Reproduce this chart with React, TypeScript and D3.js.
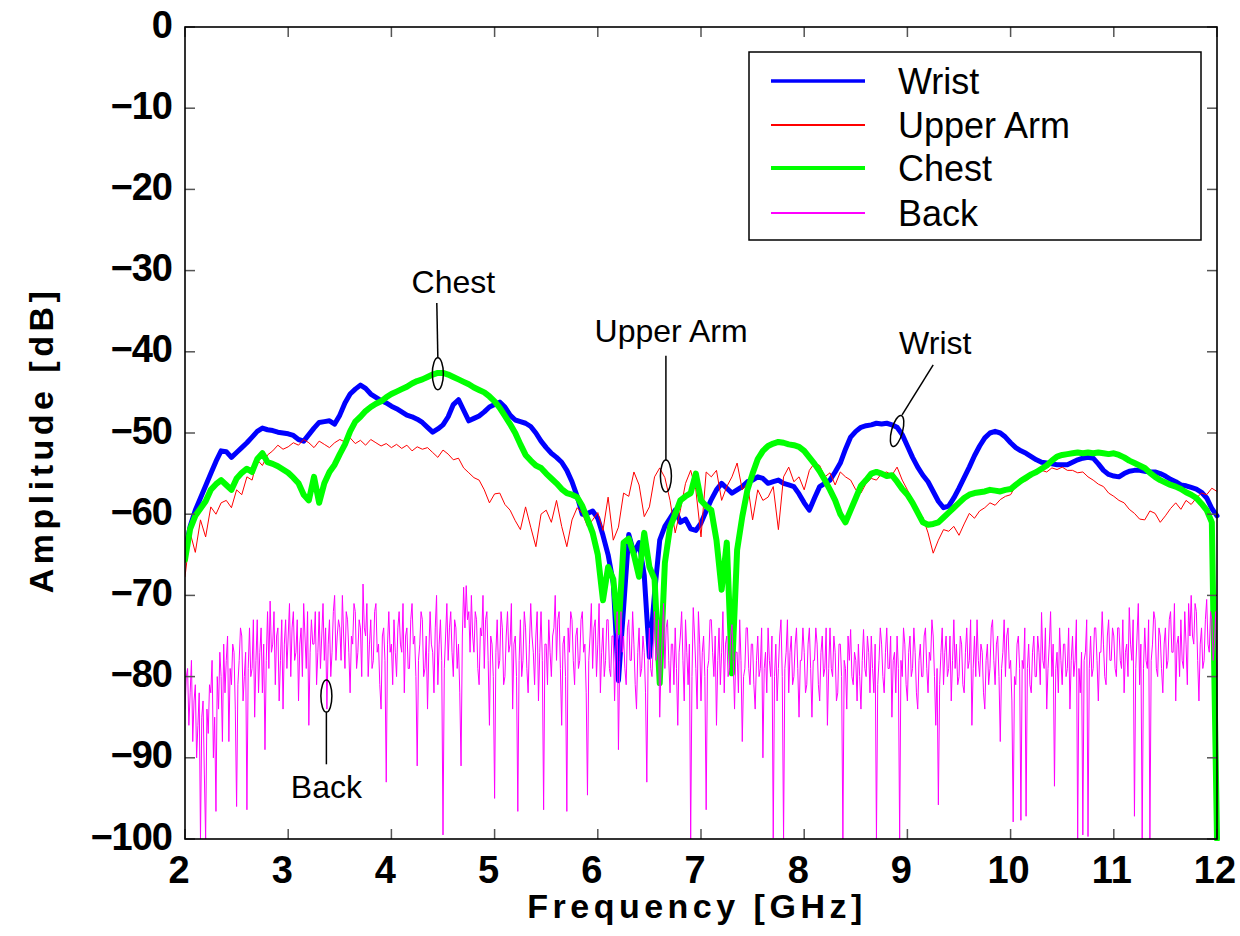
import React from "react";
import * as d3 from "d3";

// ---------- data ----------
const FREQ_TICKS = [2, 3, 4, 5, 6, 7, 8, 9, 10, 11, 12];
const AMP_TICKS = [0, -10, -20, -30, -40, -50, -60, -70, -80, -90, -100];
const SERIES_NAMES = ["Wrist", "Upper Arm", "Chest", "Back"];
const SERIES_COLORS = ["#0000ff", "#ff0000", "#00ff00", "#ff00ff"];

// 2.00 .. 12.00 GHz, 0.05 GHz step
const WRIST = [
  -64.5, -61.5, -59.5, -58, -56.5, -55, -53.5, -52.2, -52.3, -53,
  -52.4, -51.8, -51.2, -50.5, -49.8, -49.4, -49.6, -49.7, -49.9, -50,
  -50.1, -50.3, -50.8, -51, -50.2, -49.4, -48.7, -48.6, -48.5, -48.9,
  -47.8, -46.3, -45.2, -44.6, -44.1, -44.5, -45.2, -45.6, -46, -46.3,
  -46.7, -47, -47.4, -47.8, -48, -48.3, -48.7, -49.3, -49.9, -49.5,
  -49, -48, -46.5, -45.9, -47.2, -48.5, -48.2, -47.9, -47.4, -46.8,
  -46.5, -46.2, -46.8, -47.8, -48.4, -48.6, -48.8, -49.2, -50, -51,
  -51.8, -52.5, -53, -53.6, -54.6, -56, -57.8, -60, -59.9, -59.6,
  -60.5, -62.6, -65, -68.5, -80.5, -71.5, -62.5, -64.8, -63.5, -67.5,
  -77.6, -69.7, -63.2, -61.5, -60.5, -59.5, -61, -60.6, -61.8, -62,
  -61.1, -59.6, -58.2, -57, -56.2, -56.8, -57.4, -57, -56.6, -56,
  -55.8, -55.4, -55.6, -56.2, -56, -55.8, -56.2, -56.4, -56.6, -57.5,
  -58.6, -59.5, -58, -56.6, -56.2, -55.8, -54.8, -53.7, -52, -50.5,
  -49.8, -49.3, -49.1, -49, -48.8, -48.9, -48.8, -49, -49.3, -50.2,
  -51.6, -53, -54.2, -55.2, -56, -57.2, -58.4, -59.2, -59, -58,
  -56.8, -55.5, -54.2, -52.8, -51.6, -50.6, -50, -49.8, -50, -50.5,
  -51.2, -51.8, -52.2, -52.5, -52.9, -53.3, -53.6, -53.7, -53.8, -53.9,
  -53.9, -53.9, -53.6, -53.3, -53.1, -53, -53.1, -53.8, -54.6, -55.1,
  -55.3, -55.4, -55, -54.7, -54.6, -54.6, -54.7, -54.8, -54.8, -55,
  -55.3, -55.7, -56, -56.4, -56.5, -56.7, -56.9, -57.3, -58, -59.3,
  -60.2,
];

const UPPER_ARM = [
  -67.7, -62.3, -64.7, -60.7, -62.8, -59.1, -60, -58.6, -58.3, -59.2,
  -57, -57.6, -55.4, -55.8, -53.3, -54, -52.7, -52.2, -51.5, -52,
  -51.7, -51.2, -51.5, -50.8, -51.2, -51.8, -51, -51.4, -51.8, -51.2,
  -50.8, -51.1, -50.6, -51.3, -50.9, -51.5, -50.8, -51.2, -51.6, -51.3,
  -51.8, -51.4, -51.9, -51.5, -52.2, -51.7, -52, -51.8, -52.4, -53,
  -52.1, -52.6, -53.3, -53.1, -54.3, -54.9, -55.5, -55.8, -57, -58.6,
  -57.5, -57.4, -58.8, -59.5, -60.8, -61.9, -59.1, -61.6, -64, -60,
  -59.5, -61, -58.3, -61.5, -64, -60.7, -59.2, -59.9, -61.5, -60.7,
  -59.8, -62, -57.9, -63.2, -61.6, -57.4, -57.8, -54.8, -56.4, -60.3,
  -59.1, -55.4, -54.3, -55.5, -58.3, -62.3, -59.5, -56.2, -54.6, -57,
  -62.8, -54.8, -55.4, -54.6, -58.3, -56.6, -55.4, -53.7, -57, -56.2,
  -60.7, -57, -58.3, -57.9, -56.6, -61.9, -55.4, -54.2, -56, -55.4,
  -57, -54.6, -53.7, -54, -55.4, -54.9, -56.4, -54.8, -55.4, -55.8,
  -57, -57.4, -56.2, -55.6, -55.8, -55, -54.8, -55.2, -54.2, -55.8,
  -57, -58.3, -59.5, -60.4, -62.3, -64.8, -63.2, -61.9, -62.1, -61.5,
  -62.6, -61.2, -59.9, -60.5, -59.6, -59.2, -58.6, -58.9, -58.2, -57.8,
  -57.6, -56.5, -55.8, -55.9, -55.4, -54.9, -54.6, -54.8, -54.3, -54.5,
  -54.2, -54.6, -54.6, -54.9, -54.8, -55.4, -55.8, -56.3, -56.6, -57.4,
  -57.8, -58.3, -58.6, -59.4, -59.9, -60.6, -60.7, -59.6, -59.9, -61,
  -60.2, -59.3, -58.6, -59.4, -58.3, -58.8, -58, -57.4, -57.6, -56.8,
  -57.2,
];

const CHEST = [
  -65.6, -61.8, -60.2, -59.3, -58.4, -57, -56.3, -55.8, -56.4, -57,
  -55.6, -54.9, -54.4, -54.8, -53.2, -52.5, -53.6, -53.8, -54.1, -54.5,
  -54.9, -55.5, -56.2, -57.6, -58.3, -55.4, -58.6, -56.2, -54.8, -53.9,
  -52.6, -51.4, -49.8, -48.6, -48, -47.3, -46.8, -46.4, -46.1, -45.6,
  -45.2, -44.9, -44.6, -44.3, -43.9, -43.6, -43.4, -43.1, -42.8, -42.6,
  -42.6, -42.8, -43.1, -43.4, -43.7, -44, -44.4, -44.7, -45, -45.5,
  -46.1, -46.9, -47.9, -48.9, -50, -51.4, -52.7, -53.4, -54, -54.3,
  -55, -55.6, -56.2, -56.9, -57.4, -57.6, -57.9, -59, -60.6, -62.3,
  -65, -70.6, -66.5, -68, -74.5, -63.5, -63, -65, -67.7, -62.3,
  -66.5, -68, -80.8, -66, -61.6, -60, -58.3, -57.8, -57.4, -55,
  -58.3, -59, -59.5, -63.2, -69.3, -63.5, -79.6, -64.4, -60.3, -57,
  -55, -53.2, -52.2, -51.6, -51.3, -51.1, -51.2, -51.4, -51.5, -51.7,
  -52.2, -53, -53.8, -54.7, -55.8, -57, -58.3, -60, -61, -59.5,
  -58, -56.5, -55.8, -55, -54.8, -55, -55.3, -55.2, -56, -56.9,
  -57.6, -58.6, -59.8, -61, -61.3, -61.2, -61, -60.4, -59.8, -59.2,
  -58.6, -58, -57.6, -57.4, -57.3, -57.2, -57, -57.1, -57.2, -57,
  -56.9, -56.4, -55.9, -55.5, -55.1, -54.8, -54.4, -54, -53.4, -52.9,
  -52.7, -52.6, -52.5, -52.4, -52.5, -52.4, -52.5, -52.4, -52.5, -52.6,
  -52.5, -52.7, -53, -53.4, -53.7, -54, -54.3, -54.9, -55.4, -55.8,
  -56.1, -56.4, -56.6, -56.9, -57.3, -57.6, -58, -58.7, -59.5, -61,
  -100,
];

// 2.0000 .. 12.0000 GHz, 0.0125 GHz step
const BACK = [
  -84, -80, -79, -86, -82, -78, -88, -83, -81, -90, -86, -82, -100, -85, -83, -92, -100, -84, -87, -81,
  -82, -78, -90, -85, -96.6, -80, -84, -77, -80, -88, -76, -82, -78, -75, -88, -79, -81, -76, -77, -84,
  -96, -81, -78, -74, -75, -83, -80, -77, -96.4, -79, -74, -80, -79, -73, -85, -78, -73, -82, -77, -74,
  -82, -76, -89, -78, -72, -79, -70.7, -77, -76, -72, -81, -75, -74, -83, -78, -73, -84, -76, -73, -79,
  -75, -71, -80, -74, -72, -78, -77, -73, -83, -76, -74, -80, -71, -75, -79, -72, -86, -77, -73, -76,
  -76, -72, -81, -77, -72, -79, -75, -71, -78, -74, -84, -76, -73, -80, -77, -72, -70, -78, -75, -73,
  -74, -78, -70, -75, -79, -72, -73, -77, -82, -75, -76, -71, -72, -79, -77, -73, -74, -80, -68.6, -74,
  -75, -71, -80, -76, -73, -79, -78, -72, -71, -77, -76, -81, -84, -75, -74, -78, -93, -76, -72, -77,
  -76, -81, -73, -77, -80, -74, -72, -76, -77, -71, -82, -75, -74, -79, -79, -73, -71, -76, -75, -80,
  -91, -78, -76, -72, -73, -80, -79, -75, -84, -77, -72, -76, -77, -82, -74, -70, -81, -76, -73, -78,
  -99.5, -79, -75, -71, -78, -74, -72, -77, -80, -73, -74, -79, -76, -82, -91, -75, -69, -74, -68.8, -73,
  -72, -77, -70, -75, -77, -72, -73, -79, -81, -74, -75, -70, -79, -73, -72, -78, -86, -75, -76, -80,
  -95, -77, -73, -79, -78, -72, -74, -81, -80, -75, -72, -77, -76, -71, -84, -76, -75, -80, -96.6, -78,
  -73, -80, -78, -72, -74, -79, -82, -76, -71, -75, -77, -81, -75, -72, -83, -77, -72, -78, -96.4, -76,
  -76, -81, -73, -77, -80, -75, -74, -70, -78, -73, -72, -79, -86, -76, -75, -80, -96.6, -74, -77, -72,
  -73, -78, -81, -75, -74, -79, -78, -73, -72, -77, -76, -82, -94.6, -78, -75, -71, -79, -74, -73, -80,
  -76, -71, -82, -77, -74, -80, -78, -73, -73, -79, -80, -75, -75, -83, -77, -72, -89, -78, -72, -77,
  -75, -79, -81, -74, -73, -78, -78, -72, -76, -81, -84, -77, -74, -80, -79, -75, -77, -82, -93, -78,
  -74, -79, -80, -76, -72, -78, -77, -73, -85, -79, -75, -71, -79, -74, -73, -78, -82, -76, -76, -81,
  -74, -79, -86, -77, -75, -72, -78, -83, -73, -77, -81, -76, -100, -80, -71.5, -75, -79, -84, -72, -76,
  -83, -77, -75, -80, -96.4, -79, -78, -73, -73, -77, -80, -75, -86, -78, -74, -81, -77, -72, -82, -76,
  -75, -80, -79, -75, -73.6, -78, -84, -77, -77, -82, -73, -78, -88, -80, -79, -74, -74, -79, -81, -76,
  -76, -81, -84, -78, -75, -80, -79, -74, -90, -79, -77, -82, -74, -78, -80, -75, -99.9, -80, -76, -83,
  -79, -75, -73, -80, -100, -79, -77, -73, -82, -77, -75, -81, -80, -76, -74, -79, -85, -78, -78, -74,
  -77, -82, -81, -76, -74, -79, -85, -78, -78, -74, -76, -81, -83, -77, -75, -80, -79, -74, -86, -79,
  -74, -79, -80, -75, -77, -83, -82, -76, -76, -80, -100, -78, -79, -84, -75, -78, -74.2, -80, -81, -77,
  -78, -83, -76, -80, -84, -78, -74.2, -79, -80, -75, -77, -82, -75, -79, -82, -76, -100, -81, -78, -74,
  -76, -80, -82, -77, -74, -79, -79, -75, -85, -78, -77, -82, -75, -79, -100, -78, -80, -74, -76, -81,
  -83, -77, -75, -80, -79, -74, -77, -82, -84, -78, -76, -80, -80, -75, -74, -79, -82, -77, -78, -73,
  -75, -80, -86, -79, -95.8, -81, -77, -74, -81, -77, -75, -80, -79, -75, -83, -78, -73, -79, -76, -81,
  -80, -75, -76, -81, -82, -77, -74, -79, -78, -73, -86, -79, -75, -80, -73, -78, -80, -76, -77, -82,
  -84, -78, -76, -81, -79, -74, -73, -78, -81, -76, -75, -80, -88, -79, -77, -73, -80, -75, -74, -79,
  -78, -83, -97.9, -80, -81, -76, -75, -79, -97.7, -78, -79, -74, -97.2, -79, -76, -81, -82, -77, -75, -80,
  -80, -75, -77, -81, -72.1, -78, -79, -74, -84, -79, -76, -72, -80, -76, -93.5, -79, -77, -82, -74, -78,
  -81, -76, -76, -80, -79, -74, -84, -78, -75, -80, -78, -73, -100, -79, -82, -77, -99.5, -78, -77, -73,
  -99.7, -79, -75, -80, -79, -74, -74, -78, -83, -77, -77, -72, -76, -80, -81, -75, -73, -78, -78, -74,
  -75, -79, -80, -74, -74, -78, -79, -73, -82, -77, -76, -80, -71.5, -76, -78, -73, -97.2, -79, -75, -71,
  -81, -76, -100, -79, -74, -78, -79, -73, -100, -78, -76, -72, -73, -79, -80, -74, -75, -79, -82, -76,
  -74, -79, -78, -73, -72, -77, -77, -71, -83, -76, -75, -80, -73, -78, -79, -72, -76, -81, -71, -75,
  -70, -75, -76, -71, -72, -78, -83, -76, -74, -79, -78, -73, -70.5, -76, -77, -72, -73, -78, -76, -72,
  -80,
];

const SERIES = [WRIST, UPPER_ARM, CHEST, BACK];
const SERIES_WIDTHS = [5, 1, 6, 1];
const LEGEND_WIDTHS = [3.5, 2, 4, 2];

// annotations: [label, ellipse freq, ellipse dB, line-end freq, line-end dB, text freq, text dB, tilt]
const ANNOTATIONS: [string, number, number, number, number, number, number, number][] = [
  ["Chest", 4.45, -42.7, 4.44, -34, 4.6, -32.8, 0],
  ["Upper Arm", 6.66, -55.3, 6.66, -40.5, 6.71, -38.8, 0],
  ["Wrist", 8.9, -49.75, 9.25, -41.6, 9.27, -40.3, 15],
  ["Back", 3.37, -82.4, 3.37, -90.8, 3.37, -95, 0],
];

const fmt = (v: number) => (v < 0 ? "\u2212" + Math.abs(v) : String(v));

export default function App() {
  const W = 1240;
  const H = 936;
  const x = d3.scaleLinear().domain([2, 12]).range([185, 1217]);
  const y = d3.scaleLinear().domain([-100, 0]).range([839, 27]);
  const [x0, x1] = x.range();
  const [y1, y0] = y.range();

  const line = d3
    .line<[number, number]>()
    .x((d) => x(d[0]))
    .y((d) => y(d[1]));

  const toPts = (vals: number[]): [number, number][] =>
    vals.map((v, i) => [2 + (i * 10) / (vals.length - 1), v]);

  const font = "'Liberation Sans', Arial, Helvetica, sans-serif";
  const tickLen = 10;

  return (
    <svg
      width={W}
      height={H}
      style={{ position: "absolute", left: 0, top: 0, background: "#fff" }}
      fontFamily={font}
    >
      <defs>
        <clipPath id="plotclip">
          <rect x={x0} y={y0 - 1} width={x1 - x0 + 3} height={y1 - y0 + 3} />
        </clipPath>
      </defs>
      <rect x={0} y={0} width={W} height={H} fill="#fff" />

      {/* series */}
      <g clipPath="url(#plotclip)">
        {SERIES.map((vals, i) => (
          <path
            key={SERIES_NAMES[i]}
            d={line(toPts(vals)) || ""}
            fill="none"
            stroke={SERIES_COLORS[i]}
            strokeWidth={SERIES_WIDTHS[i]}
            strokeLinejoin="round"
            strokeLinecap="round"
          />
        ))}
      </g>

      {/* ticks */}
      {FREQ_TICKS.map((t) => (
        <g key={"xt" + t} stroke="#555" strokeWidth={1.5}>
          <line x1={x(t)} x2={x(t)} y1={y1} y2={y1 - tickLen} />
          <line x1={x(t)} x2={x(t)} y1={y0} y2={y0 + tickLen} />
        </g>
      ))}
      {AMP_TICKS.map((t) => (
        <g key={"yt" + t} stroke="#555" strokeWidth={1.5}>
          <line x1={x0} x2={x0 + tickLen} y1={y(t)} y2={y(t)} />
          <line x1={x1} x2={x1 - tickLen} y1={y(t)} y2={y(t)} />
        </g>
      ))}

      {/* frame */}
      <rect x={x0} y={y0} width={x1 - x0} height={y1 - y0} fill="none" stroke="#000" strokeWidth={1.6} />

      {/* tick labels */}
      {FREQ_TICKS.map((t) => (
        <text
          key={"xl" + t}
          x={x(t) + (t < 10 ? -6 : -2)}
          y={883}
          textAnchor="middle"
          fontSize={38}
          fontWeight="bold"
        >
          {fmt(t)}
        </text>
      ))}
      {AMP_TICKS.map((t) => (
        <text
          key={"yl" + t}
          x={172}
          y={y(t) + 10.5}
          textAnchor="end"
          fontSize={38}
          fontWeight="bold"
          letterSpacing={-1}
        >
          {fmt(t)}
        </text>
      ))}

      {/* axis titles */}
      <text x={697} y={918} textAnchor="middle" fontSize={34} fontWeight="bold" letterSpacing={4.5}>
        Frequency [GHz]
      </text>
      <text
        transform={`translate(53,440) rotate(-90)`}
        textAnchor="middle"
        fontSize={34}
        fontWeight="bold"
        letterSpacing={4.5}
      >
        Amplitude [dB]
      </text>

      {/* annotations */}
      {ANNOTATIONS.map(([label, ef, ed, lf, ld, tf, td, tilt]) => {
        const cx = x(ef);
        const cy = y(ed);
        const lx = x(lf);
        const ly = y(ld);
        const ry = 16;
        const below = ld < ed;
        const sx = tilt ? cx + 5 : cx;
        const sy = below ? cy + ry : cy - ry;
        return (
          <g key={label}>
            <ellipse
              cx={cx}
              cy={cy}
              rx={5.5}
              ry={ry}
              fill="none"
              stroke="#000"
              strokeWidth={1.5}
              transform={tilt ? `rotate(${tilt},${cx},${cy})` : undefined}
            />
            <line x1={sx} y1={sy} x2={lx} y2={ly} stroke="#000" strokeWidth={1.5} />
            <text x={x(tf)} y={y(td)} textAnchor="middle" fontSize={32}>
              {label}
            </text>
          </g>
        );
      })}

      {/* legend */}
      <rect x={749} y={52} width={452} height={188} fill="#fff" stroke="#000" strokeWidth={1.5} />
      {SERIES_NAMES.map((name, i) => {
        const rowY = [81, 125, 168, 213][i];
        return (
          <g key={"lg" + name}>
            <line x1={771} x2={865} y1={rowY} y2={rowY} stroke={SERIES_COLORS[i]} strokeWidth={LEGEND_WIDTHS[i]} />
            <text x={898} y={rowY + 12.5} fontSize={36}>
              {name}
            </text>
          </g>
        );
      })}
    </svg>
  );
}
